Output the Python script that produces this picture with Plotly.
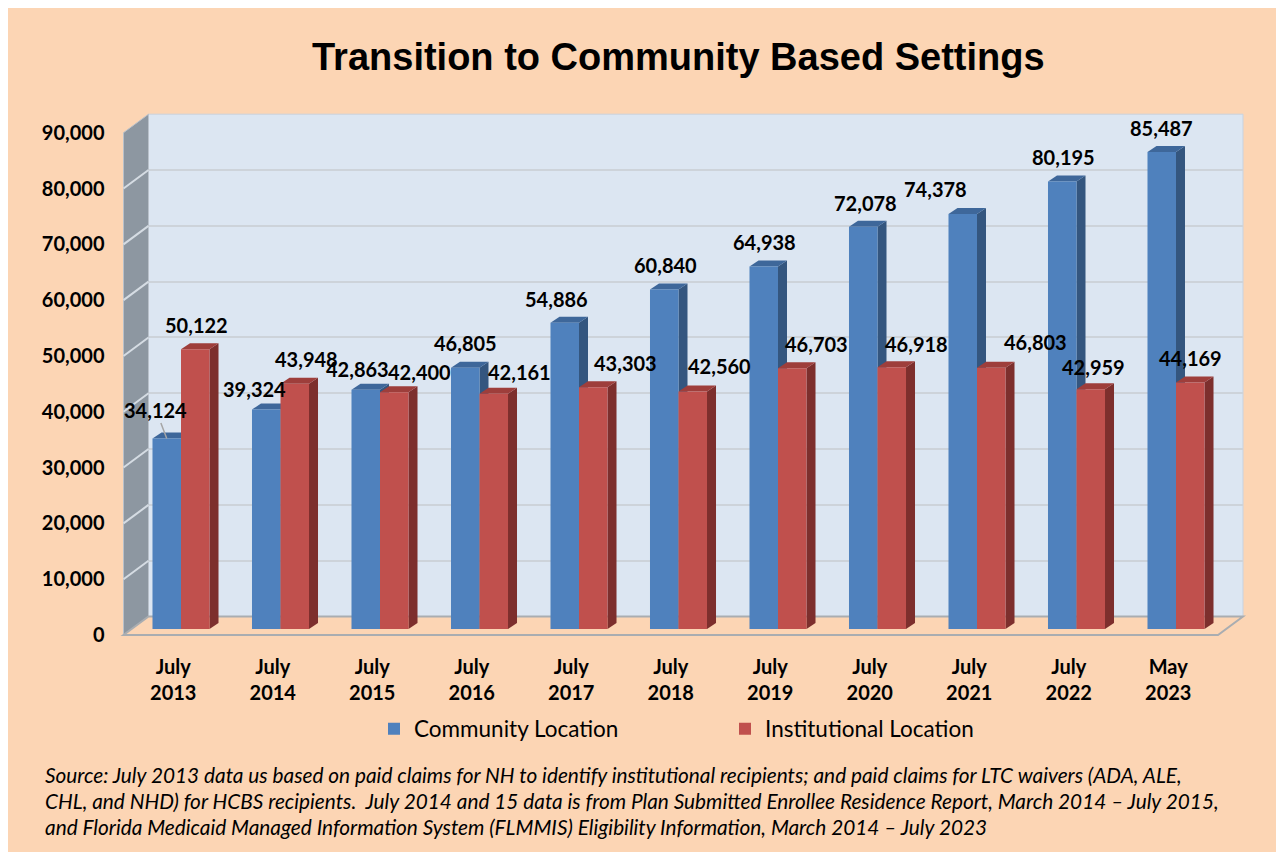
import plotly.graph_objects as go

# ---------------- data ----------------
categories = ["July 2013", "July 2014", "July 2015", "July 2016", "July 2017", "July 2018",
              "July 2019", "July 2020", "July 2021", "July 2022", "May 2023"]
community = [34124, 39324, 42863, 46805, 54886, 60840, 64938, 72078, 74378, 80195, 85487]
institutional = [50122, 43948, 42400, 42161, 43303, 42560, 46703, 46918, 46803, 42959, 44169]
y_tick_values = [0, 10000, 20000, 30000, 40000, 50000, 60000, 70000, 80000, 90000]
series_names = ["Community Location", "Institutional Location"]
title_text = "Transition to Community Based Settings"
source_lines = [
    "Source: July 2013 data us based on paid claims for NH to identify institutional recipients; and paid claims for LTC waivers (ADA, ALE,",
    "CHL, and NHD) for HCBS recipients.  July 2014 and 15 data is from Plan Submitted Enrollee Residence Report, March 2014 \u2013 July 2015,",
    "and Florida Medicaid Managed Information System (FLMMIS) Eligibility Information, March 2014 \u2013 July 2023",
]

# label nudges in pixels (the original labels were moved by hand)
community_label_dx = [-11, -12, -8, 0, -8, 1, 1, 2, -27, 1, 0]
community_label_dy = [29, 21, 21, 25, 24, 24, 25, 24, 25, 24, 24]
community_leader = [True, False, False, False, False, False, False, False, False, False, False]
institutional_label_dx = [1, 12, 25, 26, 32, 27, 24, 25, 44, 3, 0]
institutional_label_dy = [24, 25, 20, 22, 24, 25, 24, 23, 26, 22, 24]

# ---------------- geometry / style ----------------
OFF = 8                      # page body margin
W, H = 1284 - OFF, 852 - OFF
def fx(p):
    return (p - OFF) / W
def fy(p):
    return 1 - (p - OFF) / H

Y_MAX = 90000
FRONT_L, FRONT_R, FRONT_B, FRONT_T = 123.5, 1218.0, 635.0, 132.7
DEPTH_X, DEPTH_Y = 25.0, 18.5
BAR_SHIFT_X, BAR_SHIFT_Y = 7.75, 6.0
BAR_DEPTH_X, BAR_DEPTH_Y = 9.0, 6.0
BARGAP = 0.427

BACK_L, BACK_R = FRONT_L + DEPTH_X, FRONT_R + DEPTH_X
BACK_B, BACK_T = FRONT_B - DEPTH_Y, FRONT_T - DEPTH_Y
BAR_L, BAR_R = FRONT_L + BAR_SHIFT_X, FRONT_R + BAR_SHIFT_X
BAR_B, BAR_T = FRONT_B - BAR_SHIFT_Y, FRONT_T - BAR_SHIFT_Y

n = len(categories)
px_per_x = (FRONT_R - FRONT_L) / n
px_per_y = (FRONT_B - FRONT_T) / Y_MAX
dx_u = BAR_DEPTH_X / px_per_x
dy_u = BAR_DEPTH_Y / px_per_y
bar_w = (1 - BARGAP) / 2

BG = "#FCD5B4"
WALL = "#DCE6F2"
SIDE_WALL = "#8D97A1"
GRID = "#CDD3DA"
BLUE, BLUE_SIDE, BLUE_TOP = "#4F81BD", "#34567F", "#3E679A"
RED, RED_SIDE, RED_TOP = "#C0504D", "#7D2F2D", "#9E3E3B"
LABEL_FONT = "Lato"

fig = go.Figure()

# back-wall gridlines subplot (drawn first)
fig.add_trace(go.Scatter(x=[0], y=[None], xaxis="x", yaxis="y", showlegend=False,
                         hoverinfo="skip", mode="markers"))

# bars
for name, vals, col in [(series_names[0], community, BLUE), (series_names[1], institutional, RED)]:
    fig.add_trace(go.Bar(x=categories, y=vals, name=name, marker=dict(color=col, line=dict(width=0)),
                         xaxis="x2", yaxis="y2", hoverinfo="x+y"))

# front-plane label axes
fig.add_trace(go.Scatter(x=categories, y=[None] * n, xaxis="x3", yaxis="y3", showlegend=False,
                         hoverinfo="skip", mode="markers"))

shapes = []
# peach panel with grey top/left border
shapes.append(dict(type="rect", xref="paper", yref="paper", x0=fx(7), x1=fx(1300),
                   y0=fy(870), y1=fy(6), fillcolor=BG, line=dict(color="#D2D2D2", width=2),
                   layer="below"))
# back wall
shapes.append(dict(type="rect", xref="paper", yref="paper", x0=fx(BACK_L), x1=fx(BACK_R),
                   y0=fy(BACK_B), y1=fy(BACK_T), fillcolor=WALL, line=dict(color="#C9D3DF", width=1),
                   layer="below"))
# left wall
shapes.append(dict(type="path", xref="paper", yref="paper", layer="below",
                   path=f"M {fx(FRONT_L)},{fy(FRONT_B)} L {fx(BACK_L)},{fy(BACK_B)} "
                        f"L {fx(BACK_L)},{fy(BACK_T)} L {fx(FRONT_L)},{fy(FRONT_T)} Z",
                   fillcolor=SIDE_WALL, line=dict(color="#B9C1CA", width=1)))
for v in y_tick_values[1:-1]:
    shapes.append(dict(type="line", xref="paper", yref="paper", layer="below",
                       x0=fx(FRONT_L), y0=fy(FRONT_B - v * px_per_y),
                       x1=fx(BACK_L), y1=fy(BACK_B - v * px_per_y),
                       line=dict(color="#D5DCE3", width=2)))
# floor
shapes.append(dict(type="path", xref="paper", yref="paper", layer="below",
                   path=f"M {fx(FRONT_L)},{fy(FRONT_B)} L {fx(FRONT_R)},{fy(FRONT_B)} "
                        f"L {fx(BACK_R)},{fy(BACK_B)} L {fx(BACK_L)},{fy(BACK_B)} Z",
                   fillcolor=BG, line=dict(color="#A9ADB1", width=2)))

# 3D faces of the bars
for k, (vals, side, top) in enumerate([(community, BLUE_SIDE, BLUE_TOP), (institutional, RED_SIDE, RED_TOP)]):
    for i, v in enumerate(vals):
        xl = i - bar_w + k * bar_w
        xr = xl + bar_w
        shapes.append(dict(type="path", xref="x2", yref="y2", layer="between",
                           path=f"M {xr},0 L {xr},{v} L {xr + dx_u},{v + dy_u} L {xr + dx_u},{dy_u} Z",
                           fillcolor=side, line=dict(width=0)))
        shapes.append(dict(type="path", xref="x2", yref="y2", layer="between",
                           path=f"M {xl},{v} L {xr},{v} L {xr + dx_u},{v + dy_u} L {xl + dx_u},{v + dy_u} Z",
                           fillcolor=top, line=dict(width=0)))

annotations = []
annotations.append(dict(text=title_text, xref="paper", yref="paper", x=fx(678), y=fy(57),
                        showarrow=False, xanchor="center", yanchor="middle",
                        font=dict(family="Liberation Sans", size=38, color="#000000", weight="bold")))
annotations.append(dict(text="g", xref="paper", yref="paper", x=fx(41), y=fy(-6),
                        showarrow=False, xanchor="center", yanchor="middle",
                        font=dict(family="Liberation Sans", size=26, color="#000000", weight="bold")))
for j, line in enumerate(source_lines):
    annotations.append(dict(text=line, xref="paper", yref="paper", x=fx(43), y=fy(774 + 26 * j),
                            showarrow=False, xanchor="left", yanchor="middle",
                            font=dict(family=LABEL_FONT, size=20.8, color="#000000", style="italic")))

lab_font = dict(family=LABEL_FONT, size=20, color="#000000", weight="bold")
for k, (vals, dxs, dys) in enumerate([(community, community_label_dx, community_label_dy),
                                      (institutional, institutional_label_dx, institutional_label_dy)]):
    for i, v in enumerate(vals):
        xc = i - bar_w / 2 + k * bar_w
        if k == 0 and community_leader[i]:
            annotations.append(dict(text=f"{v:,}", xref="x2", yref="y2", x=xc, y=v,
                                    showarrow=True, ax=dxs[i], ay=-dys[i], arrowhead=0,
                                    arrowcolor="#A6A6A6", arrowwidth=1.5, standoff=0,
                                    font=lab_font))
        else:
            annotations.append(dict(text=f"{v:,}", xref="x2", yref="y2", x=xc, y=v,
                                    showarrow=False, xshift=dxs[i], yshift=dys[i],
                                    xanchor="center", yanchor="middle", font=lab_font))

fig.update_layout(
    width=W, height=H,
    margin=dict(l=0, r=0, t=0, b=0, autoexpand=False),
    paper_bgcolor="#FFFFFF",
    plot_bgcolor="rgba(0,0,0,0)",
    barmode="group", bargap=BARGAP, bargroupgap=0,
    shapes=shapes,
    annotations=annotations,
    showlegend=True,
    legend=dict(orientation="h", x=fx(374), xanchor="left", y=fy(729), yanchor="middle",
                font=dict(family=LABEL_FONT, size=22.5, color="#000000"),
                bgcolor="rgba(0,0,0,0)", entrywidth=306, entrywidthmode="pixels",
                traceorder="normal"),
    xaxis=dict(domain=[fx(BACK_L), fx(BACK_R)], range=[-0.5, n - 0.5], visible=False, anchor="y"),
    yaxis=dict(domain=[fy(BACK_B), fy(BACK_T)], range=[0, Y_MAX], anchor="x",
               tickvals=y_tick_values, showgrid=True, gridcolor=GRID, gridwidth=2,
               showticklabels=False, ticks="", zeroline=False, showline=False),
    xaxis2=dict(domain=[fx(BAR_L), fx(BAR_R)], range=[-0.5, n - 0.5], type="category",
                visible=False, anchor="y2"),
    yaxis2=dict(domain=[fy(BAR_B), fy(BAR_T)], range=[0, Y_MAX], visible=False, anchor="x2"),
    xaxis3=dict(domain=[fx(FRONT_L), fx(FRONT_R)], range=[-0.5, n - 0.5], type="category",
                anchor="y3", tickvals=categories, ticktext=[c.replace(" ", "<br>") for c in categories],
                showgrid=False, zeroline=False, showline=False, ticks="", ticklabelstandoff=18,
                tickfont=lab_font),
    yaxis3=dict(domain=[fy(FRONT_B), fy(FRONT_T)], range=[0, Y_MAX], anchor="x3",
                tickvals=y_tick_values, tickformat=",", showgrid=False, zeroline=False,
                showline=False, ticks="", ticklabelstandoff=18, tickfont=lab_font),
)

fig.write_html("out.html")
